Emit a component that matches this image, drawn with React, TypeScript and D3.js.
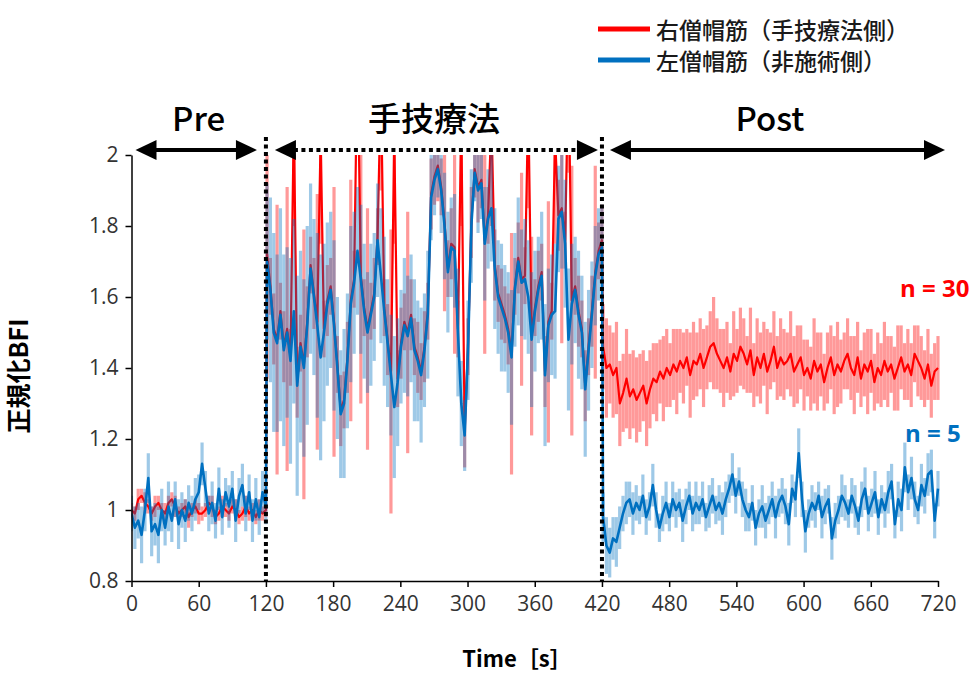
import { useEffect, useMemo, useRef } from "react";
import * as d3 from "d3";

// phase boundaries (s) and labels
const PHASE_BOUNDS = [0, 120, 420, 720];
const PHASE_LABELS = ["Pre", "手技療法", "Post"];
// time span covered by the samples of each phase
const SEGMENT_SPANS: [number, number][] = [[0, 120], [121, 420], [421, 720]];

const Y_TICKS = [0.8, 1, 1.2, 1.4, 1.6, 1.8, 2];
const X_TICKS = [0, 60, 120, 180, 240, 300, 360, 420, 480, 540, 600, 660, 720];

const LEGEND = ["右僧帽筋（手技療法側）", "左僧帽筋（非施術側）"];
const N_LABELS = ["n = 30", "n = 5"];

// 右僧帽筋 (red) mean / SD, sampled every ~3 s
const PRE_RIGHT = [1.00,0.99,1.03,1.04,1.02,1.01,0.99,1.01,1.02,1.00,0.99,1.02,1.03,1.01,0.99,1.00,1.01,0.98,1.00,1.01,0.99,0.99,1.00,1.02,1.01,0.98,0.99,1.01,1.00,0.99,1.01,1.00,0.98,0.99,1.01,0.99,1.00,0.98,1.00,0.99,1.00];
const PRE_RIGHT_SD = [0.02,0.02,0.03,0.02,0.03,0.02,0.02,0.03,0.02,0.02,0.03,0.02,0.02,0.03,0.02,0.02,0.02,0.03,0.02,0.02,0.03,0.02,0.02,0.02,0.03,0.02,0.02,0.03,0.02,0.02,0.02,0.03,0.02,0.02,0.03,0.02,0.02,0.02,0.03,0.02,0.02];
const MID_RIGHT = [
  1.72,1.63,1.51,1.48,1.56,1.46,1.51,1.43,2.10,1.36,
  1.47,1.41,1.53,1.69,1.61,1.53,2.05,1.51,1.59,1.63,
  1.53,1.41,1.28,1.31,1.43,1.59,1.65,2.30,1.66,1.57,
  1.51,1.56,1.61,1.77,2.20,1.57,1.48,1.39,2.05,1.37,
  1.47,1.53,1.50,1.55,1.46,1.43,1.39,1.46,1.56,1.89,
  1.94,1.97,1.91,1.81,1.68,1.75,1.74,1.51,2.10,1.22,
  1.46,1.81,1.96,1.91,1.93,1.76,1.83,2.10,1.69,1.61,
  1.58,1.55,1.51,1.44,1.63,1.71,1.65,1.66,2.15,1.49,
  1.57,1.63,1.67,1.39,1.53,1.56,2.05,1.83,1.85,1.76,
  2.25,1.59,1.63,1.56,1.51,1.35,1.46,1.56,1.67,1.73,
  1.76];
const MID_RIGHT_SD = [
  0.35,0.08,0.10,0.38,0.08,0.10,0.40,0.08,0.30,0.10,
  0.08,0.38,0.10,0.08,0.10,0.36,0.30,0.08,0.10,0.08,
  0.38,0.08,0.10,0.08,0.10,0.34,0.08,0.30,0.36,0.08,
  0.34,0.08,0.10,0.08,0.30,0.08,0.10,0.40,0.30,0.08,
  0.10,0.08,0.34,0.10,0.08,0.10,0.08,0.10,0.08,0.10,
  0.08,0.10,0.08,0.25,0.08,0.10,0.30,0.08,0.30,0.10,
  0.08,0.10,0.08,0.10,0.08,0.32,0.08,0.30,0.10,0.08,
  0.10,0.08,0.10,0.34,0.08,0.10,0.30,0.08,0.30,0.28,
  0.08,0.10,0.08,0.10,0.34,0.08,0.30,0.10,0.38,0.08,
  0.30,0.38,0.08,0.10,0.08,0.10,0.08,0.10,0.30,0.08,
  0.10];
const POST_RIGHT = [
  1.46,1.40,1.41,1.38,1.40,1.30,1.33,1.37,1.32,1.34,
  1.31,1.33,1.35,1.30,1.34,1.37,1.36,1.39,1.37,1.40,
  1.38,1.41,1.39,1.42,1.40,1.43,1.38,1.42,1.41,1.44,
  1.40,1.43,1.46,1.47,1.44,1.42,1.40,1.43,1.39,1.44,
  1.42,1.46,1.44,1.41,1.45,1.38,1.43,1.40,1.44,1.39,
  1.42,1.46,1.40,1.43,1.41,1.42,1.44,1.39,1.41,1.43,
  1.38,1.40,1.37,1.42,1.39,1.41,1.36,1.40,1.43,1.38,
  1.41,1.39,1.42,1.44,1.40,1.38,1.43,1.37,1.41,1.39,
  1.42,1.36,1.40,1.38,1.42,1.39,1.41,1.37,1.40,1.43,
  1.39,1.41,1.38,1.44,1.42,1.40,1.37,1.41,1.35,1.39,
  1.40];
const POST_RIGHT_SD = [
  0.12,0.14,0.11,0.12,0.13,0.12,0.11,0.14,0.12,0.11,
  0.12,0.11,0.10,0.12,0.11,0.10,0.11,0.09,0.12,0.11,
  0.09,0.10,0.12,0.09,0.10,0.08,0.12,0.11,0.09,0.10,
  0.11,0.09,0.10,0.13,0.10,0.09,0.11,0.10,0.08,0.12,
  0.09,0.11,0.10,0.08,0.12,0.09,0.11,0.10,0.09,0.12,
  0.08,0.10,0.09,0.11,0.10,0.08,0.12,0.10,0.11,0.09,
  0.10,0.08,0.09,0.12,0.11,0.09,0.08,0.10,0.09,0.11,
  0.12,0.09,0.08,0.10,0.09,0.11,0.10,0.08,0.09,0.12,
  0.09,0.08,0.10,0.09,0.11,0.10,0.08,0.09,0.12,0.09,
  0.08,0.10,0.09,0.08,0.10,0.09,0.08,0.10,0.09,0.08,
  0.09];

// 左僧帽筋 (blue) mean / SD
const PRE_LEFT = [0.99,0.95,0.97,0.93,1.00,1.09,0.94,0.96,0.93,1.00,0.95,1.01,0.97,1.03,0.96,1.00,0.97,1.02,0.99,1.03,1.05,1.13,1.06,0.99,1.02,0.97,1.06,0.98,1.05,1.01,1.06,0.97,1.04,1.07,0.99,1.05,0.97,1.03,0.98,1.05,1.01];
const PRE_LEFT_SD = [0.05,0.06,0.05,0.08,0.06,0.07,0.07,0.06,0.08,0.06,0.05,0.07,0.06,0.05,0.07,0.05,0.06,0.05,0.05,0.06,0.05,0.06,0.05,0.05,0.06,0.05,0.06,0.05,0.04,0.06,0.05,0.06,0.05,0.06,0.05,0.05,0.06,0.06,0.05,0.06,0.05];
const MID_LEFT = [
  1.70,1.62,1.50,1.47,1.55,1.45,1.50,1.42,1.56,1.35,
  1.46,1.40,1.52,1.68,1.60,1.52,1.43,1.50,1.58,1.62,
  1.52,1.40,1.27,1.30,1.42,1.58,1.64,1.73,1.65,1.56,
  1.50,1.55,1.60,1.76,1.66,1.56,1.47,1.38,1.29,1.36,
  1.46,1.52,1.49,1.54,1.45,1.42,1.38,1.45,1.55,1.88,
  1.93,1.96,1.90,1.80,1.67,1.74,1.73,1.50,1.30,1.21,
  1.45,1.80,1.95,1.90,1.92,1.75,1.82,1.85,1.68,1.60,
  1.57,1.54,1.50,1.43,1.62,1.70,1.64,1.65,1.60,1.48,
  1.56,1.62,1.66,1.38,1.52,1.55,1.56,1.82,1.84,1.75,
  1.48,1.58,1.62,1.55,1.50,1.34,1.45,1.55,1.66,1.72,
  1.74];
const MID_LEFT_SD = [
  0.22,0.26,0.28,0.25,0.30,0.27,0.24,0.29,0.26,0.31,
  0.27,0.25,0.28,0.24,0.22,0.26,0.29,0.25,0.23,0.22,
  0.24,0.20,0.18,0.21,0.19,0.22,0.20,0.18,0.21,0.19,
  0.17,0.20,0.18,0.16,0.19,0.21,0.18,0.17,0.20,0.18,
  0.16,0.19,0.17,0.18,0.20,0.17,0.19,0.16,0.18,0.12,
  0.10,0.08,0.12,0.15,0.17,0.14,0.16,0.18,0.12,0.10,
  0.14,0.16,0.08,0.12,0.10,0.16,0.14,0.15,0.17,0.16,
  0.18,0.15,0.17,0.19,0.16,0.18,0.15,0.17,0.16,0.19,
  0.17,0.15,0.18,0.20,0.16,0.17,0.19,0.15,0.16,0.18,
  0.20,0.17,0.15,0.18,0.16,0.19,0.17,0.15,0.14,0.13,
  0.12];
const POST_LEFT = [
  0.98,0.90,0.88,0.92,0.91,0.95,0.99,1.02,1.03,0.99,
  1.02,1.00,1.04,0.98,1.01,1.07,1.00,0.95,0.99,1.02,
  0.98,1.03,1.00,1.02,0.97,1.01,1.04,0.99,1.02,1.00,
  1.03,0.98,1.01,1.04,1.00,1.02,0.99,1.03,1.06,1.10,
  1.04,1.08,1.03,1.00,0.98,1.02,0.95,0.99,1.01,0.97,
  1.00,1.03,0.98,1.02,1.04,1.01,0.96,1.06,1.03,1.16,
  1.03,0.94,0.99,1.02,1.00,1.04,0.98,1.01,1.03,0.92,
  0.97,1.00,1.04,1.02,0.99,1.04,1.01,0.97,1.03,1.06,
  0.99,1.02,1.05,0.98,1.03,1.00,1.05,1.08,0.96,1.03,
  1.00,1.12,1.05,1.09,1.03,1.00,1.07,1.04,1.10,1.11,
  0.97,1.06];
const POST_LEFT_SD = [
  0.07,0.08,0.07,0.06,0.07,0.06,0.05,0.06,0.05,0.06,
  0.05,0.04,0.06,0.05,0.04,0.06,0.05,0.04,0.05,0.06,
  0.04,0.05,0.05,0.04,0.06,0.05,0.04,0.05,0.06,0.04,
  0.05,0.04,0.06,0.05,0.04,0.05,0.06,0.05,0.04,0.06,
  0.05,0.04,0.05,0.06,0.04,0.05,0.05,0.04,0.06,0.05,
  0.04,0.05,0.06,0.04,0.05,0.05,0.06,0.04,0.05,0.07,
  0.05,0.06,0.04,0.05,0.05,0.04,0.06,0.05,0.04,0.06,
  0.05,0.04,0.06,0.05,0.04,0.05,0.06,0.04,0.05,0.06,
  0.05,0.04,0.06,0.05,0.04,0.05,0.06,0.05,0.04,0.05,
  0.06,0.07,0.05,0.06,0.05,0.04,0.06,0.05,0.06,0.06,
  0.05,0.05];

const RED = "#ff0000";
const BLUE = "#0070c0";
const JP = '"Noto Sans CJK JP", sans-serif';
const NUM = '"Open Sans", sans-serif';

const W = 978;
const H = 674;
const X0 = 131.5, X1 = 938;
const Y0 = 581, Y1 = 155;

type Pt = { t: number; v: number; sd: number };

function buildSeries(means: number[][], sds: number[][]): Pt[] {
  return means.flatMap((m, k) => {
    const [t0, t1] = SEGMENT_SPANS[k];
    const idx = d3.scaleLinear().domain([0, m.length - 1]).range([t0, t1]);
    return m.map((v, i) => ({ t: idx(i), v, sd: sds[k][i] ?? sds[k][sds[k].length - 1] }));
  });
}

function Arrow({ x1, x2, y, dotted }: { x1: number; x2: number; y: number; dotted?: boolean }) {
  const L = 21, h = 10;
  return (
    <g>
      <line x1={x1 + L - 2} x2={x2 - L + 2} y1={y} y2={y} stroke="#000" strokeWidth={4}
        strokeDasharray={dotted ? "4 3.5" : undefined} />
      <polygon points={`${x1},${y} ${x1 + L},${y - h} ${x1 + L},${y + h}`} fill="#000" />
      <polygon points={`${x2},${y} ${x2 - L},${y - h} ${x2 - L},${y + h}`} fill="#000" />
    </g>
  );
}

export default function App() {
  const xRef = useRef<SVGGElement>(null);
  const yRef = useRef<SVGGElement>(null);

  const x = useMemo(() => d3.scaleLinear().domain([0, 720]).range([X0, X1]), []);
  const y = useMemo(() => d3.scaleLinear().domain([0.8, 2]).range([Y0, Y1]), []);

  const right = useMemo(() => buildSeries([PRE_RIGHT, MID_RIGHT, POST_RIGHT], [PRE_RIGHT_SD, MID_RIGHT_SD, POST_RIGHT_SD]), []);
  const left = useMemo(() => buildSeries([PRE_LEFT, MID_LEFT, POST_LEFT], [PRE_LEFT_SD, MID_LEFT_SD, POST_LEFT_SD]), []);

  const line = d3.line<Pt>().x((d) => x(d.t)).y((d) => y(d.v));

  useEffect(() => {
    const gx = d3.select(xRef.current!);
    gx.call(d3.axisBottom(x).tickValues(X_TICKS).tickSize(6).tickSizeOuter(0).tickPadding(9));
    gx.select(".domain").attr("stroke-width", 1.5);
    gx.selectAll(".tick line").attr("stroke-width", 1.5);
    gx.selectAll("text").attr("font-family", NUM).attr("font-size", 21).attr("fill", "#333");

    const gy = d3.select(yRef.current!);
    gy.call(d3.axisLeft(y).tickValues(Y_TICKS).tickFormat(d3.format("~g") as any).tickSize(6).tickSizeOuter(0).tickPadding(7));
    gy.select(".domain").attr("stroke-width", 1.5);
    gy.selectAll(".tick line").attr("stroke-width", 1.5);
    gy.selectAll("text").attr("font-family", NUM).attr("font-size", 21).attr("fill", "#333");
  }, [x, y]);

  const barW = 3.2;
  const bars = (data: Pt[], color: string, op: number) =>
    data.map((d, i) => (
      <line key={i} x1={x(d.t)} x2={x(d.t)} y1={y(d.v - d.sd)} y2={y(d.v + d.sd)}
        stroke={color} strokeOpacity={op} strokeWidth={barW} />
    ));

  const phaseMid = PHASE_LABELS.map((_, i) => (x(PHASE_BOUNDS[i]) + x(PHASE_BOUNDS[i + 1])) / 2);

  return (
    <svg width={W} height={H} style={{ position: "absolute", left: 0, top: 0, background: "#fff" }}>
      <defs>
        <clipPath id="plot">
          <rect x={X0} y={Y1} width={X1 - X0 + 2} height={Y0 - Y1} />
        </clipPath>
      </defs>

      <g clipPath="url(#plot)">
        <g>{bars(right, RED, 0.4)}</g>
        <path d={line(right)!} fill="none" stroke={RED} strokeWidth={2.2} strokeLinejoin="round" />
        <g>{bars(left, BLUE, 0.38)}</g>
        <path d={line(left)!} fill="none" stroke={BLUE} strokeWidth={2.6} strokeLinejoin="round" />
      </g>

      <g ref={xRef} transform={`translate(0,${Y0})`} />
      <g ref={yRef} transform={`translate(${X0},0)`} />

      {/* phase separators */}
      {[PHASE_BOUNDS[1], PHASE_BOUNDS[2]].map((t) => (
        <line key={t} x1={x(t)} x2={x(t)} y1={137} y2={Y0} stroke="#000" strokeWidth={4} strokeDasharray="4 3.5" />
      ))}

      {/* phase arrows and labels */}
      <Arrow x1={x(0) + 4} x2={x(120) - 9} y={150} />
      <Arrow x1={x(120) + 9} x2={x(420) - 4} y={150} dotted />
      <Arrow x1={x(420) + 8} x2={x(720) + 7} y={150} />
      {PHASE_LABELS.map((l, i) => (
        <text key={l} x={phaseMid[i]} y={131} textAnchor="middle"
          fontFamily={JP} fontSize={33} fontWeight={500} fill="#000">{l}</text>
      ))}

      {/* legend */}
      <line x1={598} x2={650} y1={29} y2={29} stroke={RED} strokeWidth={5} />
      <line x1={598} x2={650} y1={60} y2={60} stroke={BLUE} strokeWidth={5} />
      <text x={656} y={39} fontFamily={JP} fontSize={23} fontWeight={500} fill="#1a1a1a">{LEGEND[0]}</text>
      <text x={656} y={70} fontFamily={JP} fontSize={23} fontWeight={500} fill="#1a1a1a">{LEGEND[1]}</text>

      {/* n labels */}
      <text x={900} y={297} fontFamily={NUM} fontSize={24} fontWeight={700} fill={RED}>{N_LABELS[0]}</text>
      <text x={905} y={442} fontFamily={NUM} fontSize={24} fontWeight={700} fill={BLUE}>{N_LABELS[1]}</text>

      {/* axis titles */}
      <text transform="translate(28,376) rotate(-90)" textAnchor="middle" fontFamily={JP} fontSize={25}
        fontWeight={700} fill="#000">正規化BFI</text>
      <text x={517} y={667} textAnchor="middle" fontFamily={JP} fontSize={22} fontWeight={700} fill="#000">Time［s］</text>
    </svg>
  );
}
